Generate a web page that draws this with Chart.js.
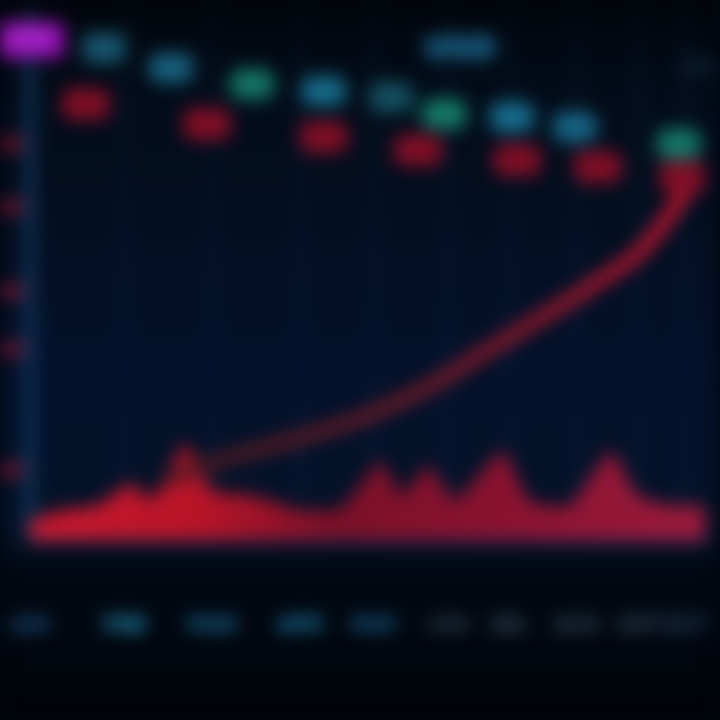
<!DOCTYPE html>
<html>
<head>
<meta charset="utf-8">
<script src="https://cdn.jsdelivr.net/npm/chart.js@4"></script>
<style>
  html, body { margin: 0; padding: 0; background: #01060e; overflow: hidden; }
  #wrap { width: 720px; height: 720px; position: relative; }
  #c { display: block; filter: blur(9px); }
</style>
</head>
<body>
<div id="wrap"><canvas id="c" width="720" height="720"></canvas></div>
<script>
// ---- data ----
const xTickValues = [0, 14, 27, 40, 51, 62, 71, 81, 90, 97];
const xTickLabels = ['JAN', 'FEB', 'MAR', 'APR', 'MAY', 'JUN', 'JUL', 'AUG', 'SEP', 'OCT'];
const yTickValues = [13, 36, 47, 63, 75];
const yTickLabels = ['100', '200', '300', '400', '500'];

const curveX = [20, 22.6, 28, 38.4, 49, 59.6, 67.4, 75.4, 83.3, 91.2, 97, 99];
const curveY = [11.5, 12.6, 15.1, 18.9, 23.2, 29.6, 35.8, 42.1, 48.5, 56.0, 66.0, 69.5];

const volX = [0, 5, 10, 15, 18, 23, 27, 33, 40, 46, 52, 55, 59, 63, 70, 74, 80, 86, 90, 95, 100];
const volY = [3.8, 5.7, 6.6, 10.8, 7.5, 18.3, 9.4, 8.5, 5.7, 6.0, 15.1, 8.5, 14.2, 7.5, 17.0, 7.5, 6.6, 17.0, 8.5, 6.6, 6.6];

const tealX = [10.9, 20.9, 32.9, 43.5, 53.5, 61.4, 71.4, 80.7, 96.1];
const tealY = [93.8, 90.0, 86.8, 85.5, 84.3, 81.1, 80.6, 78.7, 75.5];
const redX = [8.3, 26.2, 43.5, 57.5, 72.2, 84.1, 96.7];
const redY = [83.0, 79.2, 76.8, 74.2, 72.3, 71.1, 69.2];

// ---- styles ----
const xTickColors = ['#22609a', '#30b4e8', '#2280b4', '#2698d0', '#2272a8', '#3a4c5c', '#4a6478', '#3c5266', '#3c5266', '#30547a'];
const tealColors = ['#17566e', '#175f7c', '#157566', '#166a88', '#144f60', '#157a68', '#166c8c', '#166484', '#157668'];

function badge(color, w, h) {
  const cv = document.createElement('canvas');
  cv.width = w; cv.height = h;
  const g = cv.getContext('2d');
  g.fillStyle = color;
  g.beginPath();
  g.roundRect(0, 0, w, h, 10);
  g.fill();
  return cv;
}

const toPts = (xs, ys) => xs.map((x, i) => ({ x, y: ys[i] }));

const bgPlugin = {
  id: 'bg',
  beforeDraw(chart) {
    const { ctx, width, height } = chart;
    const g = ctx.createLinearGradient(0, 0, 0, height);
    g.addColorStop(0, '#01040a');
    g.addColorStop(0.12, '#020b18');
    g.addColorStop(0.5, '#03112a');
    g.addColorStop(0.74, '#031228');
    g.addColorStop(0.79, '#010812');
    g.addColorStop(1, '#000309');
    ctx.save();
    ctx.fillStyle = g;
    ctx.fillRect(0, 0, width, height);
    ctx.restore();
  }
};

const labelsPlugin = {
  id: 'labels',
  afterDraw(chart) {
    const { ctx } = chart;
    ctx.save();
    ctx.fillStyle = '#9410b4';
    ctx.beginPath();
    ctx.roundRect(-10, 22, 74, 36, 6);
    ctx.fill();
    ctx.fillStyle = '#c050e0';
    ctx.font = 'bold 16px "DejaVu Sans"';
    ctx.textBaseline = 'middle';
    ctx.fillText('LIVE', 8, 40);
    ctx.fillStyle = '#2aa0d8';
    ctx.font = 'bold 30px "DejaVu Sans"';
    ctx.textAlign = 'center';
    ctx.fillText('USD', 460, 50);
    ctx.fillStyle = '#15384c';
    ctx.font = 'bold 18px "DejaVu Sans"';
    ctx.fillText('24h', 698, 67);
    ctx.restore();
  }
};

const ctx = document.getElementById('c').getContext('2d');

new Chart(ctx, {
  type: 'line',
  data: {
    datasets: [
      {
        label: 'Trend',
        data: toPts(curveX, curveY),
        borderColor: (c) => {
          const a = c.chart.chartArea;
          if (!a) return '#b01028';
          const g = c.chart.ctx.createLinearGradient(180, 0, a.right, 0);
          g.addColorStop(0, '#4a1a22');
          g.addColorStop(0.45, '#7a1a28');
          g.addColorStop(1, '#d81430');
          return g;
        },
        borderWidth: 13,
        pointRadius: 0,
        tension: 0.4,
        cubicInterpolationMode: 'monotone',
        fill: false,
        order: 1
      },
      {
        label: 'Volume',
        data: toPts(volX, volY),
        borderColor: 'rgba(0,0,0,0)',
        borderWidth: 0,
        backgroundColor: (c) => {
          const a = c.chart.chartArea;
          if (!a) return '#a8122a';
          const g = c.chart.ctx.createLinearGradient(a.left, 0, a.right, 0);
          g.addColorStop(0, '#c8182e');
          g.addColorStop(0.25, '#b81428');
          g.addColorStop(0.45, '#7c1028');
          g.addColorStop(0.7, '#8a1230');
          g.addColorStop(1, '#9c1a3c');
          return g;
        },
        fill: 'origin',
        pointRadius: 0,
        tension: 0.15,
        order: 2
      },
      {
        label: 'Upper',
        data: toPts(tealX, tealY),
        showLine: false,
        pointStyle: tealColors.map(col => badge(col, 44, 30)),
        pointRadius: 14,
        order: 0
      },
      {
        label: 'Lower',
        data: toPts(redX, redY),
        showLine: false,
        pointStyle: badge('#800e26', 48, 32),
        pointRadius: 14,
        order: 0
      }
    ]
  },
  options: {
    responsive: false,
    animation: false,
    devicePixelRatio: 1,
    layout: { padding: { top: 10, right: 0, bottom: 88, left: 0 } },
    plugins: { legend: { display: false }, tooltip: { enabled: false } },
    scales: {
      x: {
        type: 'linear',
        min: 0,
        max: 100,
        afterBuildTicks: (s) => { s.ticks = xTickValues.map(v => ({ value: v })); },
        afterFit: (s) => { s.height = 92; s.paddingLeft = 0; s.paddingRight = 0; },
        ticks: {
          autoSkip: false,
          maxRotation: 0,
          padding: 74,
          font: { family: 'DejaVu Sans', size: 20, weight: 'bold' },
          color: (c) => xTickColors[c.index] || '#2a4a66',
          callback: (v, i) => xTickLabels[i]
        },
        grid: { color: 'rgba(40,90,140,0.22)', lineWidth: 3, drawTicks: false },
        border: { display: true, color: '#2a2a60', width: 8 }
      },
      y: {
        min: 0,
        max: 100,
        afterBuildTicks: (s) => { s.ticks = yTickValues.map(v => ({ value: v })); },
        afterFit: (s) => { s.width = 30; s.paddingTop = 0; s.paddingBottom = 0; },
        ticks: {
          padding: 6,
          font: { family: 'DejaVu Sans', size: 20, weight: 'bold' },
          color: '#c81a36',
          callback: (v, i) => yTickLabels[i]
        },
        grid: { display: false, drawTicks: false },
        border: { display: true, color: '#14406a', width: 8 }
      }
    }
  },
  plugins: [bgPlugin, labelsPlugin]
});
</script>
</body>
</html>
